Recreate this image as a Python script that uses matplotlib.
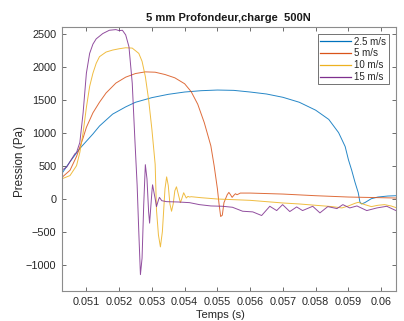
import matplotlib
matplotlib.use("Agg")
import matplotlib.pyplot as plt

plt.rcParams['font.family'] = ['Liberation Sans', 'DejaVu Sans']

title = "5 mm Profondeur,charge  500N"
xlabel = "Temps (s)"
ylabel = "Pression (Pa)"
labels = ["2.5 m/s", "5 m/s", "10 m/s", "15 m/s"]
colors = ["#0072BD", "#D95319", "#EDB120", "#7E2F8E"]
xticks = [0.051, 0.052, 0.053, 0.054, 0.055, 0.056, 0.057, 0.058, 0.059, 0.060]
xticklabels = ["0.051", "0.052", "0.053", "0.054", "0.055", "0.056", "0.057", "0.058", "0.059", "0.06"]
yticks = [-1000, -500, 0, 500, 1000, 1500, 2000, 2500]

t_blue = [0.05025, 0.0505, 0.0508, 0.0510, 0.0512, 0.0514, 0.0518, 0.0522, 0.0525, 0.0530,
          0.0535, 0.0540, 0.0545, 0.0550, 0.0555, 0.0560, 0.0565, 0.0570, 0.0575, 0.0580,
          0.0584, 0.0587, 0.0589, 0.0590, 0.0591, 0.0592, 0.0593, 0.05935, 0.0594, 0.0595,
          0.0597, 0.0599, 0.0602, 0.06045]
p_blue = [380, 560, 760, 870, 980, 1100, 1280, 1390, 1460, 1530,
          1580, 1615, 1635, 1645, 1640, 1615, 1585, 1535, 1460, 1340,
          1200, 1000, 790, 590, 430, 250, 90, -50, -80, -60,
          0, 25, 40, 45]

t_orange = [0.05025, 0.0505, 0.0507, 0.0509, 0.0510, 0.0512, 0.0514, 0.0516, 0.0519, 0.0522,
            0.0525, 0.0528, 0.0531, 0.0534, 0.0537, 0.0540, 0.0542, 0.0544, 0.0546, 0.0548,
            0.0549, 0.0550, 0.05505, 0.0551, 0.05515, 0.0552, 0.0553, 0.05535, 0.0554, 0.05545,
            0.0555, 0.05555, 0.0556, 0.0557, 0.0560, 0.0570, 0.0580, 0.0590, 0.0600, 0.06045]
p_orange = [320, 430, 640, 920, 1080, 1300, 1460, 1600, 1750, 1840,
            1895, 1920, 1915, 1880, 1830, 1740, 1620, 1430, 1150, 800,
            500, 150, -80, -270, -250, -60, 60, 95, 60, 20,
            50, 75, 60, 85, 85, 70, 45, 25, 15, 10]

t_yellow = [0.05025, 0.0505, 0.0507, 0.0508, 0.0509, 0.0510, 0.0511, 0.0512, 0.0513, 0.0514,
            0.0516, 0.0518, 0.0520, 0.0522, 0.0524, 0.0526, 0.0527, 0.0528, 0.0529, 0.0530,
            0.0531, 0.05314, 0.0532, 0.05326, 0.05332, 0.0534, 0.05345, 0.0535, 0.05355, 0.0536,
            0.05365, 0.0537, 0.05375, 0.0538, 0.05387, 0.0539, 0.05397, 0.0540, 0.05405, 0.0541,
            0.05415, 0.0542, 0.0545, 0.0550, 0.0555, 0.0560, 0.0565, 0.0570, 0.0575, 0.0580,
            0.0585, 0.0588, 0.0590, 0.0592, 0.0593, 0.0595, 0.0597, 0.0599, 0.0601, 0.0603,
            0.06045]
p_yellow = [300, 350, 500, 700, 1000, 1380, 1700, 1900, 2050, 2150,
            2220, 2250, 2270, 2285, 2280, 2200, 2080, 1850, 1500, 1050,
            520, -170, -550, -730, -500, 150, 330, 200, -80, -190,
            -80, 120, 180, 80, -60, -20, 90, 60, 10, 35,
            25, 30, 15, -5, -15, -25, -45, -65, -80, -100,
            -120, -140, -110, -70, -55, -90, -120, -100, -90, -110,
            -135]

t_purple = [0.05025, 0.0504, 0.0505, 0.0506, 0.05065, 0.0507, 0.0508, 0.0509, 0.0510, 0.0511,
            0.0512, 0.0513, 0.0515, 0.0517, 0.0519, 0.0520, 0.0521, 0.0522, 0.0523, 0.0524,
            0.05248, 0.05255, 0.0526, 0.05265, 0.0527, 0.05275, 0.0528, 0.05285, 0.0529, 0.05293,
            0.0530, 0.05302, 0.0531, 0.05314, 0.0532, 0.05323, 0.0533, 0.05345, 0.0538, 0.05415,
            0.05445, 0.0548, 0.05516, 0.05546, 0.05577, 0.05608, 0.05635, 0.0566, 0.05681, 0.05699,
            0.05721, 0.05742, 0.0576, 0.05791, 0.05813, 0.05837, 0.05865, 0.05883, 0.05904, 0.05926,
            0.05956, 0.05987, 0.06017, 0.06045]
p_purple = [430, 480, 560, 640, 680, 700, 850, 1300, 1900, 2200,
            2340, 2420, 2500, 2550, 2560, 2545, 2550, 2480, 2300, 1750,
            900, 200, -500, -1150, -900, -100, 515, 300, -200, -370,
            100, 210, 0, -120, -20, 20, -30, -45, -50, -60,
            -90, -110, -115, -130, -190, -200, -255, -115, -180, -90,
            -195, -125, -180, -115, -215, -120, -150, -90, -140, -110,
            -180, -140, -115, -180]

fig = plt.figure(figsize=(4.04, 3.21), dpi=100)
ax = fig.add_axes([0.153, 0.093, 0.827, 0.823])

series = [(t_blue, p_blue), (t_orange, p_orange), (t_yellow, p_yellow), (t_purple, p_purple)]
for (t, p), lab, c in zip(series, labels, colors):
    ax.plot(t, p, color=c, lw=0.7, alpha=0.85, label=lab)

ax.set_xlim(0.05025, 0.06045)
ax.set_ylim(-1400, 2600)
ax.set_xticks(xticks)
ax.set_xticklabels(xticklabels)
ax.set_yticks(yticks)
ax.tick_params(direction='in', top=True, right=True, length=3, width=0.6,
               labelsize=7.8, colors='#555555', labelcolor='#262626', pad=4)
for s in ax.spines.values():
    s.set_color('#8c8c8c')
    s.set_linewidth(0.8)

ax.set_title(title, fontsize=8, fontweight='bold', pad=4, color='#1a1a1a')
ax.set_xlabel(xlabel, fontsize=8, color='#262626')
ax.xaxis.set_label_coords(0.476, -0.072)
ax.set_ylabel(ylabel, fontsize=8.4, color='#262626')
ax.yaxis.set_label_coords(-0.108, 0.49)

leg = ax.legend(loc='upper right', fontsize=7, frameon=True, fancybox=False,
                borderpad=0.25, handlelength=3.2, handletextpad=0.3, labelspacing=0.18,
                borderaxespad=0.75)
leg.get_frame().set_edgecolor('#333333')
leg.get_frame().set_linewidth(0.6)
for line in leg.get_lines():
    line.set_linewidth(0.9)
    line.set_alpha(1.0)
for txt in leg.get_texts():
    txt.set_color('#262626')

fig.savefig("out.png", dpi=100)
